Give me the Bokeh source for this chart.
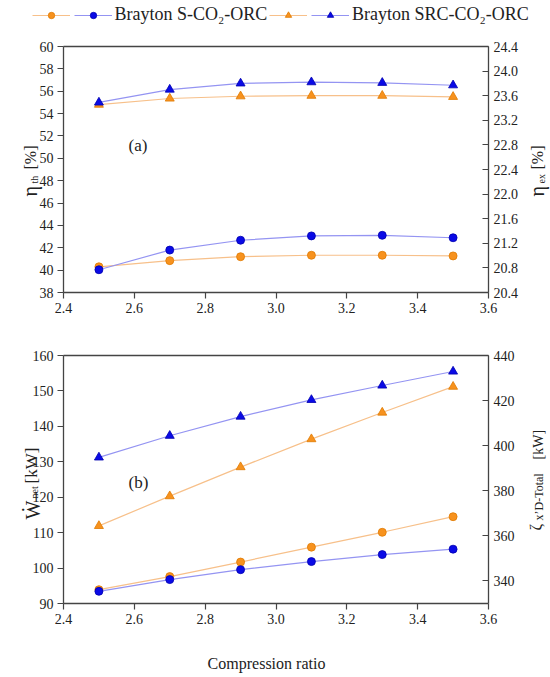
import math
from bokeh.plotting import figure
from bokeh.models import (Range1d, LinearAxis, FixedTicker, NumeralTickFormatter,
                          Label, Legend, LegendItem)
from bokeh.layouts import column
from bokeh.embed import file_html
from bokeh.resources import INLINE

# ---------------- data ----------------
cr = [2.5, 2.7, 2.9, 3.1, 3.3, 3.5]
# panel (a)
eta_th_s = [40.3, 40.85, 41.2, 41.33, 41.33, 41.27]      # orange circles, left axis
eta_th_src = [54.8, 55.35, 55.55, 55.6, 55.6, 55.5]      # orange triangles, left axis
eta_ex_s = [20.77, 21.09, 21.25, 21.32, 21.33, 21.29]    # blue circles, right axis
eta_ex_src = [23.49, 23.70, 23.80, 23.82, 23.81, 23.77]  # blue triangles, right axis
# panel (b)
w_net_s = [93.9, 97.6, 101.7, 105.9, 110.1, 114.5]       # orange circles, left axis
w_net_src = [111.9, 120.3, 128.5, 136.4, 143.9, 151.2]   # orange triangles, left axis
exd_s = [335.4, 340.6, 345.0, 348.6, 351.7, 354.1]       # blue circles, right axis
exd_src = [394.8, 404.4, 412.9, 420.3, 426.7, 432.9]     # blue triangles, right axis

x_lim = (2.4, 3.6)
x_ticks = [2.4, 2.6, 2.8, 3.0, 3.2, 3.4, 3.6]
a_left_lim = (38, 60)
a_left_ticks = [38, 40, 42, 44, 46, 48, 50, 52, 54, 56, 58, 60]
a_right_lim = (20.4, 24.4)
a_right_ticks = [20.4, 20.8, 21.2, 21.6, 22.0, 22.4, 22.8, 23.2, 23.6, 24.0, 24.4]
b_left_lim = (90, 160)
b_left_ticks = [90, 100, 110, 120, 130, 140, 150, 160]
b_right_lim = (330, 440)
b_right_ticks = [340, 360, 380, 400, 420, 440]

series_names = ["Brayton S-CO\u2082-ORC", "Brayton SRC-CO\u2082-ORC"]

FONT = "Liberation Serif"
ORANGE = "#F7921E"
ORANGE_EDGE = "#E07A00"
ORANGE_LINE = "#F7C08A"
BLUE = "#0A0AE6"
BLUE_EDGE = "#0000B0"
BLUE_LINE = "#9494F2"
AX = "#444444"
TXT = "#222222"

# ---------------- page geometry (px, page coordinates) ----------------
PAGE_L = 0
FIG_W = 550
BOX_L, BOX_R = 63, 488
A_FIG = (0, 330)          # top, height
A_BOX = (46, 292)         # top, bottom
B_FIG = (330, 347)
B_BOX = (355, 603)


def lin(v0, v1, p0, p1):
    """value at page coord q, given value v0 at page p0 and v1 at page p1"""
    return lambda q: v0 + (q - p0) * (v1 - v0) / (p1 - p0)


def style_axis(ax, tick_in=0, tick_out=6, standoff=4):
    ax.axis_line_color = AX
    ax.axis_line_width = 1.3
    ax.major_tick_line_color = AX
    ax.major_tick_line_width = 1.2
    ax.major_tick_out = tick_out
    ax.major_tick_in = tick_in
    ax.minor_tick_out = 0
    ax.minor_tick_in = 0
    ax.major_label_text_font = FONT
    ax.major_label_text_font_size = "14px"
    ax.major_label_text_color = TXT
    ax.major_label_standoff = standoff


def make_panel(fig_geom, box, left_lim, left_ticks, left_fmt, right_lim, right_ticks, right_fmt):
    ftop, fh = fig_geom
    btop, bbot = box
    fx = lin(x_lim[0], x_lim[1], BOX_L, BOX_R)
    fyl = lin(left_lim[0], left_lim[1], bbot, btop)
    fyr = lin(right_lim[0], right_lim[1], bbot, btop)
    p = figure(width=FIG_W, height=fh,
               x_range=Range1d(fx(PAGE_L), fx(PAGE_L + FIG_W)),
               y_range=Range1d(fyl(ftop + fh), fyl(ftop)),
               x_axis_type=None, y_axis_type=None,
               output_backend="svg", toolbar_location=None,
               min_border=0, min_border_left=0, min_border_right=0,
               min_border_top=0, min_border_bottom=0)
    p.outline_line_color = None
    p.extra_y_ranges = {"r": Range1d(fyr(ftop + fh), fyr(ftop))}

    xb = LinearAxis(fixed_location=left_lim[0], bounds=x_lim,
                    ticker=FixedTicker(ticks=x_ticks, minor_ticks=[]),
                    formatter=NumeralTickFormatter(format="0.0"))
    style_axis(xb, standoff=4)
    p.add_layout(xb, "below")

    xt = LinearAxis(fixed_location=left_lim[1], bounds=x_lim,
                    ticker=FixedTicker(ticks=[], minor_ticks=[]))
    style_axis(xt, tick_out=0)
    p.add_layout(xt, "above")

    yl = LinearAxis(fixed_location=x_lim[0], bounds=left_lim,
                    ticker=FixedTicker(ticks=left_ticks, minor_ticks=[]),
                    formatter=NumeralTickFormatter(format=left_fmt))
    style_axis(yl, standoff=4)
    p.add_layout(yl, "left")

    yr = LinearAxis(y_range_name="r", fixed_location=x_lim[1], bounds=right_lim,
                    ticker=FixedTicker(ticks=right_ticks, minor_ticks=[]),
                    formatter=NumeralTickFormatter(format=right_fmt))
    style_axis(yr, tick_in=6, tick_out=0, standoff=5)
    p.add_layout(yr, "right")

    def m(px, py):
        return fx(px), fyl(py)
    return p, m


def draw(p, ys, marker, color, edge, line_color, size, rng=None):
    kw = {} if rng is None else {"y_range_name": rng}
    lr = p.line(cr, ys, line_color=line_color, line_width=1.2, **kw)
    sr = p.scatter(cr, ys, marker=marker, size=size, fill_color=color,
                   line_color=edge, line_width=0.8, **kw)
    return lr, sr


def rot_pieces(p, m, pieces):
    # pieces: (text, font_px, baseline_page_x, start_page_y)
    for text, fs, bx, sy in pieces:
        x, y = m(bx, sy)
        p.add_layout(Label(x=x, y=y, text=text, angle=math.pi / 2,
                           text_align="left", text_baseline="alphabetic",
                           text_font=FONT, text_font_size=f"{fs}px",
                           text_color=TXT))


def text_at(p, m, px, py, text, fs, align="left"):
    x, y = m(px, py)
    p.add_layout(Label(x=x, y=y, text=text, text_font=FONT, text_font_size=f"{fs}px",
                       text_baseline="middle", text_align=align, text_color=TXT))


# ---------------- panel (a) ----------------
pa, ma = make_panel(A_FIG, A_BOX, a_left_lim, a_left_ticks, "0",
                    a_right_lim, a_right_ticks, "0.0")
oc_l, oc_s = draw(pa, eta_th_s, "circle", ORANGE, ORANGE_EDGE, ORANGE_LINE, 8)
ot_l, ot_s = draw(pa, eta_th_src, "triangle", ORANGE, ORANGE_EDGE, ORANGE_LINE, 9)
bc_l, bc_s = draw(pa, eta_ex_s, "circle", BLUE, BLUE_EDGE, BLUE_LINE, 8, "r")
bt_l, bt_s = draw(pa, eta_ex_src, "triangle", BLUE, BLUE_EDGE, BLUE_LINE, 9, "r")

rot_pieces(pa, ma, [("\u03b7", 20, 29, 196), ("th", 10, 34, 183), ("[%]", 16, 30, 169)])
rot_pieces(pa, ma, [("\u03b7", 20, 536, 196), ("ex", 10, 541, 183), ("[%]", 16, 537, 169)])
text_at(pa, ma, 128, 145, "(a)", 17)

a_fig_bottom = A_FIG[0] + A_FIG[1]
LEG_CY, LEG_H = 14, 22
for items, lx in ((
        [LegendItem(label="", renderers=[oc_l, oc_s]),
         LegendItem(label=series_names[0], renderers=[bc_l, bc_s])], 31.5),
        ([LegendItem(label="", renderers=[ot_l, ot_s]),
          LegendItem(label=series_names[1], renderers=[bt_l, bt_s])], 269)):
    lg = Legend(items=items, orientation="horizontal",
                location=(lx - PAGE_L, a_fig_bottom - (LEG_CY + LEG_H / 2)),
                glyph_width=38, glyph_height=16, label_height=16, label_width=0,
                label_standoff=3, spacing=1, padding=0, margin=0,
                border_line_color=None, background_fill_alpha=0,
                label_text_font=FONT, label_text_font_size="18px",
                label_text_color=TXT)
    pa.add_layout(lg, "center")

# ---------------- panel (b) ----------------
pb, mb = make_panel(B_FIG, B_BOX, b_left_lim, b_left_ticks, "0",
                    b_right_lim, b_right_ticks, "0")
draw(pb, w_net_s, "circle", ORANGE, ORANGE_EDGE, ORANGE_LINE, 8)
draw(pb, w_net_src, "triangle", ORANGE, ORANGE_EDGE, ORANGE_LINE, 9)
draw(pb, exd_s, "circle", BLUE, BLUE_EDGE, BLUE_LINE, 8, "r")
draw(pb, exd_src, "triangle", BLUE, BLUE_EDGE, BLUE_LINE, 9, "r")

rot_pieces(pb, mb, [("\u1e86", 20, 32, 519), ("net", 10, 34, 498), ("[kW]", 17, 31, 483)])
rot_pieces(pb, mb, [("\u03b6", 16, 535, 530), ("x\u2019D-Total", 12, 538, 520),
                    ("[kW]", 14, 538, 459)])
text_at(pb, mb, 128, 481.5, "(b)", 17)
text_at(pb, mb, 266, 663, "Compression ratio", 16, align="center")

layout = column(pa, pb)
open("out.html", "w").write(file_html(layout, INLINE))
